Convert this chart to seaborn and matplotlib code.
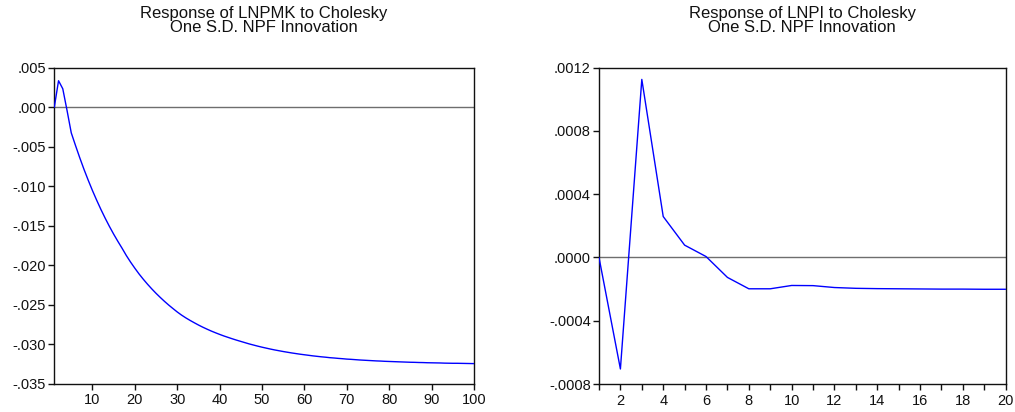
import numpy as np
import pandas as pd
import matplotlib
matplotlib.use("Agg")
import matplotlib.pyplot as plt
import seaborn as sns

# ---------------- data ----------------
left_title = "Response of LNPMK to Cholesky\nOne S.D. NPF Innovation"
right_title = "Response of LNPI to Cholesky\nOne S.D. NPF Innovation"

left_periods = list(range(1, 101))
left_values = [
    0.0, 0.00335, 0.00233, -0.00040, -0.00325,
    -0.00485, -0.00640, -0.00787, -0.00925, -0.01056,
    -0.01179, -0.01296, -0.01406, -0.01510, -0.01608,
    -0.01700, -0.01788, -0.01880, -0.01963, -0.02040,
    -0.02113, -0.02180, -0.02243, -0.02302, -0.02358,
    -0.02410, -0.02460, -0.02507, -0.02551, -0.02594,
    -0.02633, -0.02668, -0.02700, -0.02730, -0.02759,
    -0.02786, -0.02811, -0.02835, -0.02857, -0.02878,
    -0.02898, -0.02916, -0.02934, -0.02951, -0.02967,
    -0.02983, -0.02999, -0.03013, -0.03027, -0.03040,
    -0.03052, -0.03064, -0.03075, -0.03085, -0.03095,
    -0.03104, -0.03113, -0.03121, -0.03129, -0.03136,
    -0.03143, -0.03150, -0.03156, -0.03162, -0.03167,
    -0.03173, -0.03177, -0.03182, -0.03186, -0.03191,
    -0.03194, -0.03198, -0.03202, -0.03205, -0.03208,
    -0.03211, -0.03214, -0.03216, -0.03219, -0.03221,
    -0.03223, -0.03225, -0.03227, -0.03229, -0.03231,
    -0.03232, -0.03234, -0.03235, -0.03237, -0.03238,
    -0.03239, -0.03240, -0.03242, -0.03243, -0.03244,
    -0.03244, -0.03245, -0.03246, -0.03247, -0.03248,
]

right_periods = list(range(1, 21))
right_values = [
    0.0, -0.000705, 0.001126, 0.000259, 0.000078,
    0.000006, -0.000126, -0.000198, -0.000198, -0.000177,
    -0.000178, -0.000190, -0.000195, -0.000197, -0.000198,
    -0.000199, -0.000200, -0.000200, -0.000201, -0.000201,
]

left_yticks = [0.005, 0.000, -0.005, -0.010, -0.015, -0.020, -0.025, -0.030, -0.035]
left_ylabels = [".005", ".000", "-.005", "-.010", "-.015", "-.020", "-.025", "-.030", "-.035"]
left_xticks = [10, 20, 30, 40, 50, 60, 70, 80, 90, 100]
left_xlabels = ["10", "20", "30", "40", "50", "60", "70", "80", "90", "100"]

right_yticks = [0.0012, 0.0008, 0.0004, 0.0000, -0.0004, -0.0008]
right_ylabels = [".0012", ".0008", ".0004", ".0000", "-.0004", "-.0008"]
right_xticks = list(range(1, 21))
right_xlabels = ["" if p % 2 else str(p) for p in right_xticks]

# ---------------- style ----------------
sns.set_style("white")
plt.rcParams["font.family"] = ["Liberation Sans", "DejaVu Sans"]

W, H = 1015, 412
fig = plt.figure(figsize=(W / 100, H / 100), dpi=100)

ax_l = fig.add_axes([54.3 / W, 1 - 383.5 / H, (474.0 - 54.3) / W, (383.5 - 67.7) / H])
ax_r = fig.add_axes([599.0 / W, 1 - 384.0 / H, (1005.7 - 599.0) / W, (384.0 - 67.7) / H])

df_l = pd.DataFrame({"period": left_periods, "value": left_values})
df_r = pd.DataFrame({"period": right_periods, "value": right_values})

def style_axes(ax, title, xlim, ylim, xticks, xlabels, yticks, ylabels):
    ax.axhline(0, color="#6e6e6e", lw=1.0, zorder=1)
    ax.set_xlim(*xlim)
    ax.set_ylim(*ylim)
    ax.set_xticks(xticks)
    ax.set_xticklabels(xlabels)
    ax.set_yticks(yticks)
    ax.set_yticklabels(ylabels)
    ax.set_xlabel("")
    ax.set_ylabel("")
    for s in ax.spines.values():
        s.set_visible(True)
        s.set_color("#111111")
        s.set_linewidth(1.0)
    ax.tick_params(axis="both", which="both", direction="out", length=4, width=1.0,
                   color="#111111", labelsize=10.5, labelcolor="#111111",
                   bottom=True, left=True, top=False, right=False)
    ax.tick_params(axis="x", pad=3)
    ax.tick_params(axis="y", pad=2)
    ax.text(0.5, 1.113, title, transform=ax.transAxes, ha="center", va="baseline",
            fontsize=12, linespacing=0.88, color="#111111")

sns.lineplot(data=df_l, x="period", y="value", ax=ax_l, color="#0000ff", lw=1.0, zorder=3)
style_axes(ax_l, left_title, (1, 100), (-0.035, 0.005),
           left_xticks, left_xlabels, left_yticks, left_ylabels)

sns.lineplot(data=df_r, x="period", y="value", ax=ax_r, color="#0000ff", lw=1.0, zorder=3)
style_axes(ax_r, right_title, (1, 20), (-0.0008, 0.0012),
           right_xticks, right_xlabels, right_yticks, right_ylabels)

fig.savefig("out.png", dpi=100, facecolor="white")
